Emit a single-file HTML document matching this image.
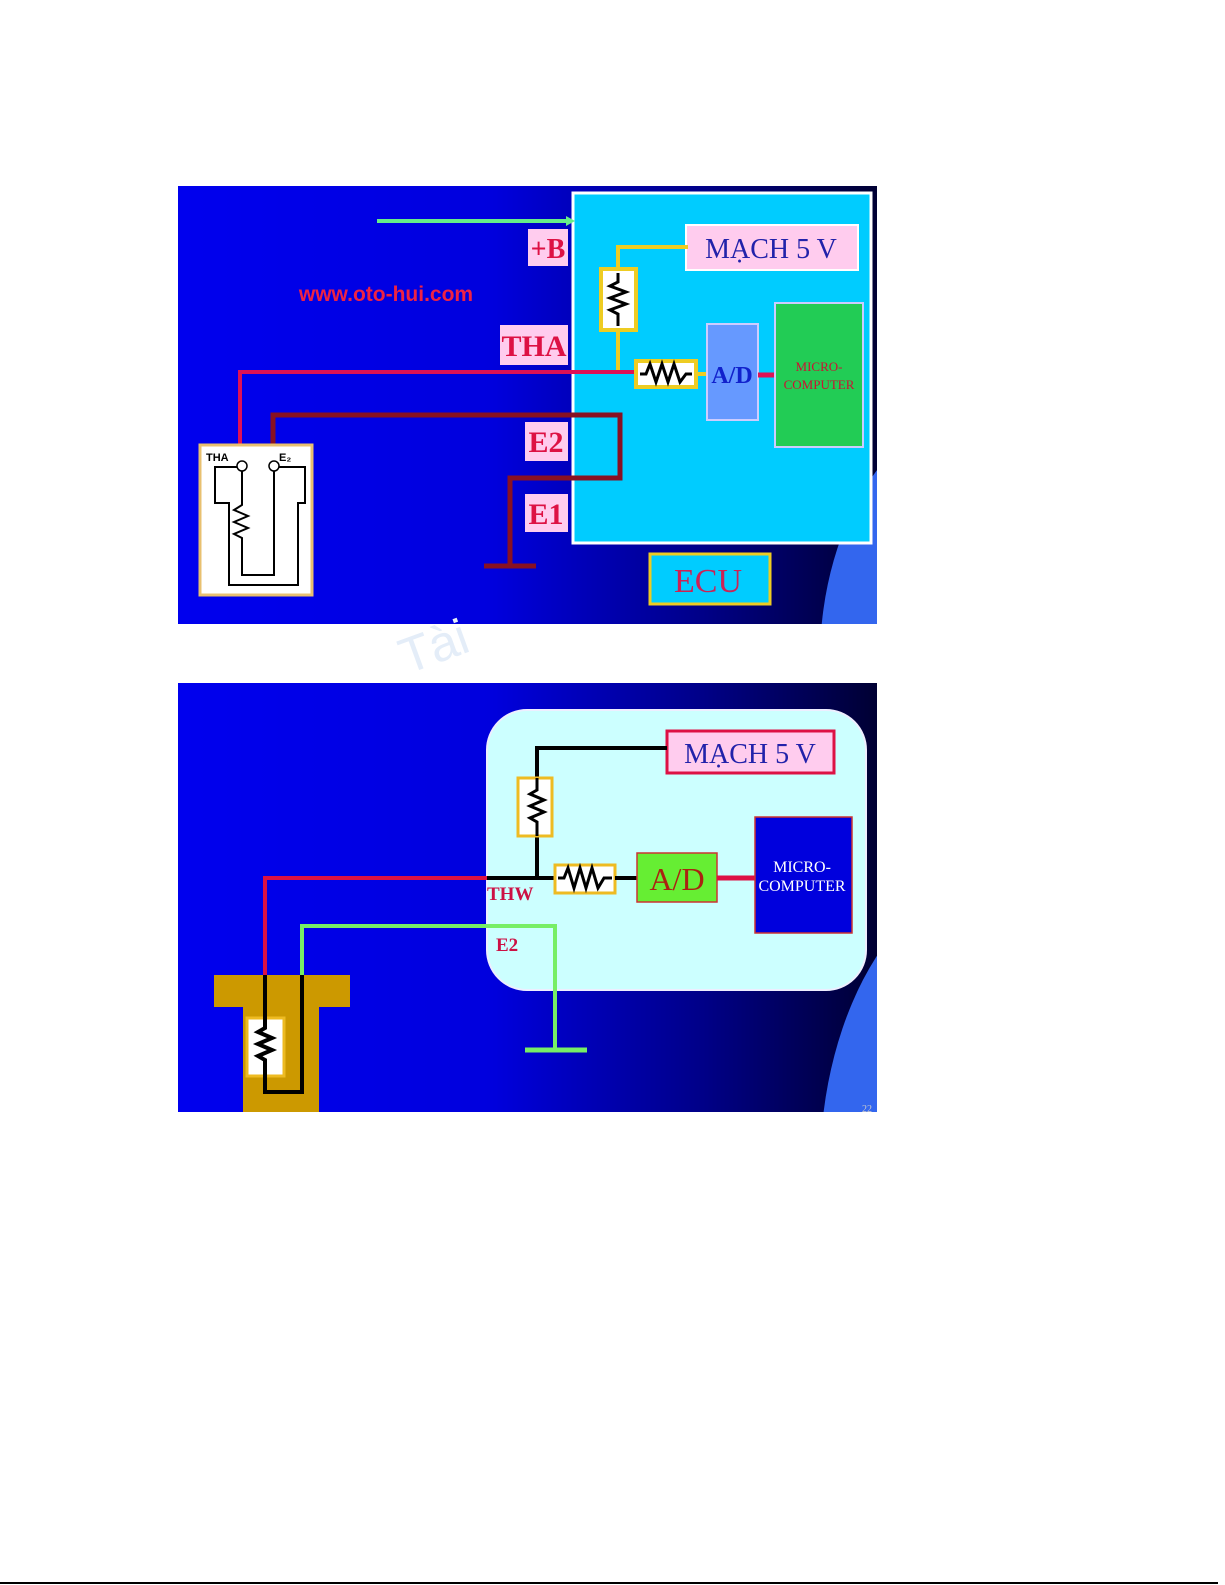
<!DOCTYPE html>
<html><head><meta charset="utf-8"><style>
html,body{margin:0;padding:0;background:#fff;}
svg{display:block}
text{font-family:"Liberation Serif",serif;}
</style></head><body>
<svg width="1225" height="1585" viewBox="0 0 1225 1585" xmlns="http://www.w3.org/2000/svg">
<defs>
<linearGradient id="bg" x1="0" y1="0" x2="1" y2="0">
<stop offset="0" stop-color="#0000ee"/><stop offset="0.45" stop-color="#0000dd"/><stop offset="0.75" stop-color="#000088"/><stop offset="1" stop-color="#000033"/>
</linearGradient>
<clipPath id="c1"><rect x="178" y="186" width="699" height="438"/></clipPath>
<clipPath id="c2"><rect x="178" y="683" width="699" height="429"/></clipPath>
</defs>
<!-- Panel 1 -->
<g clip-path="url(#c1)">
<rect x="178" y="186" width="699" height="438" fill="url(#bg)"/>
<ellipse cx="1000" cy="660" rx="180" ry="260" fill="#3366ee"/>
<rect x="573" y="193" width="298" height="350" fill="#00ccff" stroke="#fff" stroke-width="3"/>
<line x1="377" y1="221" x2="566" y2="221" stroke="#66ee88" stroke-width="4"/>
<polygon points="566,216 575,221 566,226" fill="#66ee88"/>
<rect x="528" y="229" width="40" height="37" fill="#ffccee"/>
<text x="548" y="258" font-size="28" font-weight="bold" fill="#dd1144" text-anchor="middle">+B</text>
<text x="386" y="301" font-size="21" font-weight="bold" fill="#ee2244" text-anchor="middle" style="font-family:'Liberation Sans',sans-serif">www.oto-hui.com</text>
<rect x="686" y="225" width="172" height="45" fill="#ffccee" stroke="#fff" stroke-width="2"/>
<text x="771" y="258" font-size="28" fill="#2222aa" text-anchor="middle">MẠCH 5 V</text>
<polyline points="688,247 618,247 618,270" fill="none" stroke="#eecc22" stroke-width="4"/>
<rect x="601" y="269" width="35" height="61" fill="#fff" stroke="#eecc22" stroke-width="4"/>
<polyline points="618,273 618,282 610,286 626,292 610,298 626,304 610,310 618,314 618,326" fill="none" stroke="#000" stroke-width="3"/>
<line x1="618" y1="330" x2="618" y2="372" stroke="#eecc22" stroke-width="4"/>
<rect x="500" y="325" width="68" height="40" fill="#ffccee"/>
<text x="534" y="356" font-size="30" font-weight="bold" fill="#dd1144" text-anchor="middle">THA</text>
<polyline points="240,462 240,372 640,372" fill="none" stroke="#dd1155" stroke-width="4"/>
<rect x="636" y="361" width="60" height="26" fill="#fff" stroke="#eecc22" stroke-width="4"/>
<polyline points="640,374 646,374 650,364 656,382 662,364 668,382 674,364 680,382 686,374 692,374" fill="none" stroke="#000" stroke-width="3"/>
<line x1="696" y1="374" x2="707" y2="374" stroke="#eecc22" stroke-width="4"/>
<rect x="707" y="324" width="51" height="96" fill="#6699ff" stroke="#ccf" stroke-width="2"/>
<text x="732" y="383" font-size="24" font-weight="bold" fill="#1122cc" text-anchor="middle">A/D</text>
<line x1="758" y1="375" x2="776" y2="375" stroke="#dd1155" stroke-width="5"/>
<rect x="775" y="303" width="88" height="144" fill="#22cc55" stroke="#ccf" stroke-width="2"/>
<text x="819" y="371" font-size="13" fill="#cc1133" text-anchor="middle">MICRO-</text>
<text x="819" y="389" font-size="13" fill="#cc1133" text-anchor="middle">COMPUTER</text>
<polyline points="273,462 273,415 620,415 620,478 510,478 510,566" fill="none" stroke="#881122" stroke-width="5"/>
<line x1="484" y1="566" x2="536" y2="566" stroke="#881122" stroke-width="5"/>
<rect x="525" y="422" width="43" height="39" fill="#ffccee"/>
<text x="546" y="452" font-size="30" font-weight="bold" fill="#dd1144" text-anchor="middle">E2</text>
<rect x="525" y="494" width="43" height="38" fill="#ffccee"/>
<text x="546" y="524" font-size="30" font-weight="bold" fill="#dd1144" text-anchor="middle">E1</text>
<rect x="650" y="554" width="120" height="50" fill="#00ccff" stroke="#eecc22" stroke-width="3"/>
<text x="708" y="592" font-size="34" fill="#cc2255" text-anchor="middle">ECU</text>
<rect x="200" y="445" width="112" height="150" fill="#fff" stroke="#e8c070" stroke-width="3"/>
<polyline points="242,467 215,467 215,503 229,503 229,585 298,585 298,503 305,503 305,467 274,467" fill="none" stroke="#000" stroke-width="2"/>
<polyline points="242,467 242,495 242,505 234,510 248,516 234,522 248,528 234,534 242,538 242,575 274,575 274,467" fill="none" stroke="#000" stroke-width="2"/>
<circle cx="242" cy="466" r="5" fill="#fff" stroke="#000" stroke-width="1.5"/>
<circle cx="274" cy="466" r="5" fill="#fff" stroke="#000" stroke-width="1.5"/>
<text x="206" y="461" font-size="11" font-weight="bold" fill="#000" style="font-family:'Liberation Sans',sans-serif">THA</text>
<text x="279" y="461" font-size="11" font-weight="bold" fill="#000" style="font-family:'Liberation Sans',sans-serif">E₂</text>
</g>
<text x="400" y="665" font-size="50" fill="#e4edf8" transform="rotate(-20 430 650)" style="font-family:'Liberation Sans',sans-serif">Tài</text>
<!-- Panel 2 -->
<g clip-path="url(#c2)">
<rect x="178" y="683" width="699" height="429" fill="url(#bg)"/>
<ellipse cx="1010" cy="1170" rx="190" ry="300" fill="#3366ee"/>
<rect x="487" y="710" width="379" height="280" rx="40" fill="#ccffff" stroke="#eef" stroke-width="2"/>
<rect x="667" y="731" width="167" height="42" fill="#ffccee" stroke="#dd1144" stroke-width="3"/>
<text x="750" y="763" font-size="28" fill="#2222aa" text-anchor="middle">MẠCH 5 V</text>
<polyline points="667,748 537,748 537,880" fill="none" stroke="#000" stroke-width="4"/>
<rect x="518" y="778" width="34" height="58" fill="#fff" stroke="#eebb22" stroke-width="3"/>
<polyline points="537,778 537,790 530,794 544,800 530,806 544,812 530,818 537,822 537,836" fill="none" stroke="#000" stroke-width="3"/>
<polyline points="265,975 265,878 487,878" fill="none" stroke="#dd1144" stroke-width="4"/>
<line x1="487" y1="878" x2="556" y2="878" stroke="#000" stroke-width="4"/>
<rect x="555" y="865" width="60" height="28" fill="#fff" stroke="#eebb22" stroke-width="3"/>
<polyline points="558,878 564,878 568,868 574,888 580,868 586,888 592,868 598,888 604,878 612,878" fill="none" stroke="#000" stroke-width="3"/>
<line x1="615" y1="878" x2="637" y2="878" stroke="#000" stroke-width="4"/>
<rect x="637" y="853" width="80" height="49" fill="#66ee33" stroke="#cc3333" stroke-width="1.5"/>
<text x="677" y="890" font-size="32" fill="#aa2211" text-anchor="middle">A/D</text>
<line x1="717" y1="878" x2="755" y2="878" stroke="#dd1144" stroke-width="5"/>
<rect x="755" y="817" width="97" height="116" fill="#0000dd" stroke="#cc3333" stroke-width="1.5"/>
<text x="802" y="872" font-size="16" fill="#fff" text-anchor="middle">MICRO-</text>
<text x="802" y="891" font-size="16" fill="#fff" text-anchor="middle">COMPUTER</text>
<text x="487" y="900" font-size="19" font-weight="bold" fill="#cc1144">THW</text>
<polyline points="302,975 302,926 555,926 555,1050" fill="none" stroke="#77ee66" stroke-width="4"/>
<line x1="525" y1="1050" x2="587" y2="1050" stroke="#77ee66" stroke-width="5"/>
<text x="496" y="951" font-size="19" font-weight="bold" fill="#cc1144">E2</text>
<rect x="214" y="975" width="136" height="32" fill="#cc9900"/>
<rect x="243" y="1006" width="76" height="106" fill="#cc9900"/>
<rect x="247" y="1018" width="37" height="58" fill="#fff" stroke="#eebb22" stroke-width="3"/>
<polyline points="265,975 265,1028 258,1032 272,1038 258,1044 272,1050 258,1056 265,1060 265,1092 302,1092 302,975" fill="none" stroke="#000" stroke-width="4"/>
<text x="862" y="1112" font-size="10" fill="#ccc">22</text>
</g>
<line x1="0" y1="1583" x2="1218" y2="1583" stroke="#000" stroke-width="2"/>
</svg>
</body></html>
